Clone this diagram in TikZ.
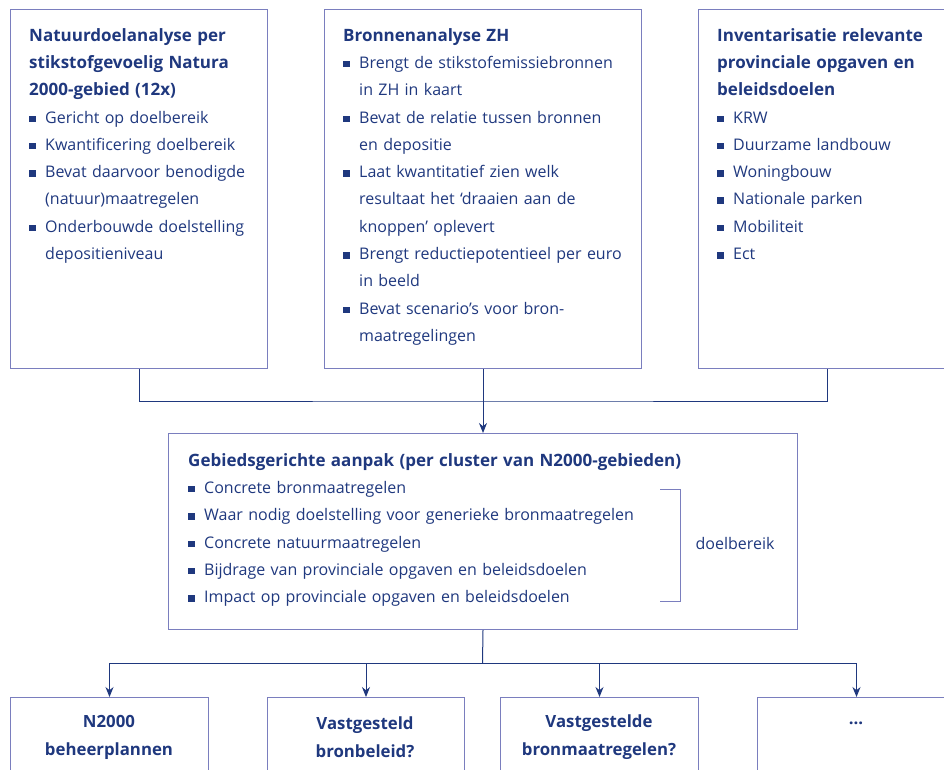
\documentclass[tikz,border=0pt]{standalone}
\usepackage{fontspec}
\setmainfont{Open Sans}
\usetikzlibrary{positioning,arrows.meta}

\definecolor{navy}{RGB}{31,56,126}
\definecolor{framecol}{RGB}{122,126,190}

% blokje voor de opsomming
\newcommand{\sqb}{\textcolor{navy}{\rule[1pt]{6.5pt}{6.5pt}}}
\newcommand{\itm}[1]{\par\noindent\hangindent=16pt\hangafter=1\makebox[16pt][l]{\sqb}#1\par}
\newcommand{\ttl}[1]{{\bfseries\fontsize{17}{27.3}\selectfont #1}}

\begin{document}
\begin{tikzpicture}[x=1pt, y=-1pt,
    box/.style={draw=framecol, line width=1pt, anchor=north west, inner sep=0pt},
    txt/.style={text=navy, align=left, inner sep=0pt, font=\fontsize{16}{27.3}\selectfont},
    lbl/.style={text=navy, align=center, inner sep=0pt, font=\bfseries\fontsize{16.8}{28}\selectfont},
    conn/.style={draw=navy, line width=1pt},
    arr/.style={conn, -{Stealth[length=10pt,width=8pt]}}]
    \useasboundingbox (0,0) rectangle (944,769);

    % Bovenste rij: drie analyses
    \node[box, minimum width=257pt, minimum height=359pt] (natuur_node) at (10,9) {};
    \node[box, minimum width=317pt, minimum height=359pt] (bron_node) at (324,9) {};
    \node[box, minimum width=258pt, minimum height=359pt] (inv_node) at (698,9) {};

    \node[txt, text width=240pt, below right=19pt and 19pt of natuur_node.north west] (natuur_txt) {%
        \ttl{Natuurdoelanalyse per\newline stikstofgevoelig Natura\newline 2000-gebied (12x)}
        \itm{Gericht op doelbereik}
        \itm{Kwantificering doelbereik}
        \itm{Bevat daarvoor benodigde\newline (natuur)maatregelen}
        \itm{Onderbouwde doelstelling\newline depositieniveau}};

    \node[txt, text width=300pt, below right=19pt and 19pt of bron_node.north west] (bron_txt) {%
        \ttl{Bronnenanalyse ZH}
        \itm{Brengt de stikstofemissiebronnen\newline in ZH in kaart}
        \itm{Bevat de relatie tussen bronnen\newline en depositie}
        \itm{Laat kwantitatief zien welk\newline resultaat het ‘draaien aan de\newline knoppen’ oplevert}
        \itm{Brengt reductiepotentieel per euro\newline in beeld}
        \itm{Bevat scenario’s voor bron-\newline maatregelingen}};

    \node[txt, text width=240pt, below right=19pt and 19pt of inv_node.north west] (inv_txt) {%
        \ttl{Inventarisatie relevante\newline provinciale opgaven en\newline beleidsdoelen}
        \itm{KRW}
        \itm{Duurzame landbouw}
        \itm{Woningbouw}
        \itm{Nationale parken}
        \itm{Mobiliteit}
        \itm{Ect}};

    % Midden: gebiedsgerichte aanpak
    \node[box, minimum width=629pt, minimum height=196pt] (gebied_node) at (168,433) {};
    \node[txt, text width=560pt, below right=20pt and 20pt of gebied_node.north west] (gebied_txt) {%
        \ttl{Gebiedsgerichte aanpak (per cluster van N2000-gebieden)}
        \itm{Concrete bronmaatregelen}
        \itm{Waar nodig doelstelling voor generieke bronmaatregelen}
        \itm{Concrete natuurmaatregelen}
        \itm{Bijdrage van provinciale opgaven en beleidsdoelen}
        \itm{Impact op provinciale opgaven en beleidsdoelen}};
    \draw[framecol, line width=1pt] (660,489) -- (680,489) -- (680,601) -- (660,601);
    \node[txt] (doel_node) at (735,543) {doelbereik};

    % Onderste rij
    \node[box, minimum width=198pt, minimum height=120pt] (plan_node) at (10,697) {};
    \node[box, minimum width=197pt, minimum height=120pt] (beleid_node) at (267,697) {};
    \node[box, minimum width=198pt, minimum height=120pt] (maatr_node) at (500,697) {};
    \node[box, minimum width=198pt, minimum height=120pt] (dots_node) at (757,697) {};

    \node[lbl] (plan_lbl) at (109,737) {N2000\\beheerplannen};
    \node[lbl] (beleid_lbl) at (365,737) {Vastgesteld\\bronbeleid?};
    \node[lbl] (maatr_lbl) at (599,737) {Vastgestelde\\bronmaatregelen?};
    \node[lbl] (dots_lbl) at (856,723) {...};

    % Verbindingen
    \coordinate (join) at (482.5,401);
    \coordinate (split) at (482.5,663);
    \draw[conn] (natuur_node.south) |- (join) -| (inv_node.south);
    \draw[arr] (bron_node.south) -- (gebied_node.north);
    \draw[conn] (gebied_node.south) -- (split);
    \draw[arr] (split) -| (plan_node.north);
    \draw[arr] (split) -| (beleid_node.north);
    \draw[arr] (split) -| (maatr_node.north);
    \draw[arr] (split) -| (dots_node.north);
\end{tikzpicture}
\end{document}
